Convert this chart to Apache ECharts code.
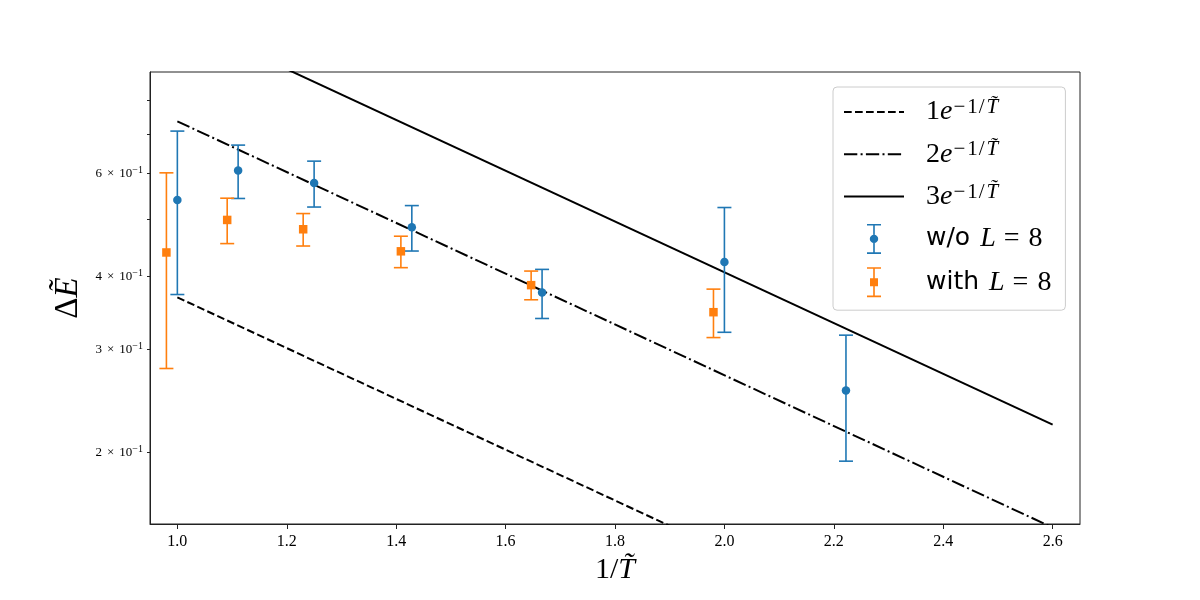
<!DOCTYPE html>
<html>
<head>
<meta charset="utf-8">
<script src="https://cdn.jsdelivr.net/npm/echarts@6/dist/echarts.min.js"></script>
<style>html,body{margin:0;padding:0;background:#fff}#c{width:1200px;height:600px}</style>
</head>
<body>
<div id="c"></div>
<script>
// ---- data ----
const xTicks = [1.0, 1.2, 1.4, 1.6, 1.8, 2.0, 2.2, 2.4, 2.6];
const yTickValues = [0.2, 0.3, 0.4, 0.5, 0.6, 0.7, 0.8];
const yLabelValues = [0.2, 0.3, 0.4, 0.6];

const lineX = [1.0, 2.6];
const line1 = [0.3679, 0.0743];
const line2 = [0.7358, 0.1486];
const line3 = [1.1036, 0.2228];

const xWo = [1.0, 1.1111, 1.25, 1.4286, 1.6667, 2.0, 2.2222];
const yWo = [0.540, 0.606, 0.577, 0.485, 0.375, 0.423, 0.255];
const yWoLow = [0.372, 0.543, 0.525, 0.4415, 0.3385, 0.3206, 0.193];
const yWoHigh = [0.708, 0.670, 0.629, 0.528, 0.4107, 0.524, 0.317];

const xWith = [0.98, 1.0911, 1.23, 1.4086, 1.6467, 1.98];
const yWith = [0.439, 0.499, 0.481, 0.441, 0.386, 0.347];
const yWithLow = [0.278, 0.4546, 0.4503, 0.4135, 0.3644, 0.314];
const yWithHigh = [0.6007, 0.5436, 0.5117, 0.468, 0.408, 0.380];

const BLUE = '#1f77b4', ORANGE = '#ff7f0e';
const SERIF = 'Liberation Serif';
const SANS = 'DejaVu Sans';

function errBar(color) {
  return function (params, api) {
    const x = api.value(0), lo = api.value(2), hi = api.value(3);
    const t = api.coord([x, hi]), b = api.coord([x, lo]);
    const c = 7;
    const style = { stroke: color, lineWidth: 1.6 };
    return {
      type: 'group',
      children: [
        { type: 'line', shape: { x1: t[0], y1: t[1], x2: b[0], y2: b[1] }, style },
        { type: 'line', shape: { x1: t[0] - c, y1: t[1], x2: t[0] + c, y2: t[1] }, style },
        { type: 'line', shape: { x1: b[0] - c, y1: b[1], x2: b[0] + c, y2: b[1] }, style }
      ]
    };
  };
}

// legend icons: error bar glyph with marker (filled path)
const iconCircle = 'path://M0 0H14V1.6H0Z M6.2 1.6H7.8V10.8H6.2Z M6.2 19.2H7.8V28.4H6.2Z M0 28.4H14V30H0Z ' +
  'M2.8 15A4.2 4.2 0 1 1 11.2 15A4.2 4.2 0 1 1 2.8 15Z';
const iconSquare = 'path://M0 0H14V1.6H0Z M6.2 1.6H7.8V11H6.2Z M6.2 19H7.8V28.4H6.2Z M0 28.4H14V30H0Z ' +
  'M3 11H11V19H3Z';

const legendLabels = {
  L1: '{pad| }{n|1}{i|e}{sm|−}{s|1}{sl|/}{si|T̃}',
  L2: '{pad| }{n|2}{i|e}{sm|−}{s|1}{sl|/}{si|T̃}',
  L3: '{pad| }{n|3}{i|e}{sm|−}{s|1}{sl|/}{si|T̃}',
  wo: '{pad| }{sf|w/o}{gap| }{i|L}{eq|=}{n|8}',
  with: '{pad| }{sf|with}{gap| }{i|L}{eq|=}{n|8}'
};

const supBase = { fontFamily: SERIF, fontSize: 21, color: '#000', verticalAlign: 'top', lineHeight: 12 };

const chart = echarts.init(document.getElementById('c'), null, { renderer: 'canvas' });
const option = {
  animation: false,
  backgroundColor: '#fff',
  grid: { left: 150, right: 120, top: 72, bottom: 76, show: true, borderColor: '#222', borderWidth: 1, backgroundColor: 'transparent' },
  xAxis: {
    type: 'value', min: 0.95, max: 2.65,
    axisLine: { show: true, onZero: false, lineStyle: { color: '#222', width: 1 } },
    splitLine: { show: false },
    axisTick: { show: true, customValues: xTicks, length: 5, lineStyle: { color: '#222' } },
    axisLabel: { customValues: xTicks, formatter: v => v.toFixed(1), fontFamily: SERIF, fontSize: 16, color: '#000', margin: 10 },
    name: '{n|1/}{i|T̃}', nameLocation: 'middle', nameGap: 26,
    nameTextStyle: { rich: {
      n: { fontFamily: SERIF, fontSize: 30, color: '#000', lineHeight: 30 },
      i: { fontFamily: SERIF, fontStyle: 'italic', fontSize: 30, color: '#000', lineHeight: 30 }
    } }
  },
  yAxis: {
    type: 'log', logBase: 10, min: 0.1507, max: 0.8935,
    axisLine: { show: true, lineStyle: { color: '#222', width: 1 } },
    splitLine: { show: false },
    minorTick: { show: false },
    axisTick: { show: true, customValues: yTickValues, length: 3, lineStyle: { color: '#222' } },
    axisLabel: {
      customValues: yLabelValues, margin: 7,
      formatter: v => '{a|' + Math.round(v * 10) + '}{x|×}{a|10}{b|−1}',
      rich: {
        a: { fontFamily: SERIF, fontSize: 13, color: '#000', lineHeight: 16 },
        x: { fontFamily: SERIF, fontSize: 13, color: '#000', padding: [0, 5, 0, 5], lineHeight: 16 },
        b: { fontFamily: SERIF, fontSize: 10, color: '#000', verticalAlign: 'top', lineHeight: 9 }
      }
    },
    name: '{n|Δ}{i|Ẽ}', nameLocation: 'middle', nameGap: 62, nameRotate: 90,
    nameTextStyle: { rich: {
      n: { fontFamily: SERIF, fontSize: 33, color: '#000', lineHeight: 36 },
      i: { fontFamily: SERIF, fontStyle: 'italic', fontSize: 33, color: '#000', lineHeight: 36 }
    } }
  },
  legend: {
    orient: 'vertical', left: 833, top: 87,
    itemWidth: 60, itemHeight: 30, itemGap: 13.3,
    padding: [10, 14, 13, 10],
    backgroundColor: 'rgba(255,255,255,0.85)', borderColor: '#cccccc', borderWidth: 1, borderRadius: 4,
    data: [
      { name: 'L1', itemStyle: { opacity: 0 } },
      { name: 'L2', itemStyle: { opacity: 0 } },
      { name: 'L3', itemStyle: { opacity: 0 } },
      { name: 'wo', icon: iconCircle }, { name: 'with', icon: iconSquare }
    ],
    formatter: name => legendLabels[name],
    textStyle: { rich: {
      pad: { width: 17 },
      gap: { width: 10 },
      n: { fontFamily: SERIF, fontSize: 28, color: '#000', lineHeight: 30 },
      i: { fontFamily: SERIF, fontStyle: 'italic', fontSize: 28, color: '#000', lineHeight: 30 },
      eq: { fontFamily: SERIF, fontSize: 28, color: '#000', lineHeight: 30, padding: [0, 9, 0, 8] },
      sm: Object.assign({}, supBase, { padding: [0, 2, 0, 1] }),
      s: Object.assign({}, supBase),
      sl: Object.assign({}, supBase, { padding: [0, 2, 0, 1] }),
      si: Object.assign({}, supBase, { fontStyle: 'italic' }),
      sf: { fontFamily: SANS, fontSize: 25, color: '#000', lineHeight: 30 }
    } }
  },
  series: [
    { name: 'L1', type: 'line', data: lineX.map((x, i) => [x, line1[i]]), symbol: 'none', showSymbol: false, clip: true,
      lineStyle: { color: '#000', width: 2, type: [7.7, 3.3] }, itemStyle: { color: 'rgba(0,0,0,0)' }, z: 2 },
    { name: 'L2', type: 'line', data: lineX.map((x, i) => [x, line2[i]]), symbol: 'none', showSymbol: false, clip: true,
      lineStyle: { color: '#000', width: 2, type: [13.3, 3.3, 2, 3.3] }, itemStyle: { color: 'rgba(0,0,0,0)' }, z: 2 },
    { name: 'L3', type: 'line', data: lineX.map((x, i) => [x, line3[i]]), symbol: 'none', showSymbol: false, clip: true,
      lineStyle: { color: '#000', width: 2, type: 'solid' }, itemStyle: { color: 'rgba(0,0,0,0)' }, z: 2 },
    { name: 'woErr', type: 'custom', renderItem: errBar(BLUE), encode: { x: 0, y: [1, 2, 3] },
      data: xWo.map((x, i) => [x, yWo[i], yWoLow[i], yWoHigh[i]]), itemStyle: { color: BLUE }, z: 3 },
    { name: 'withErr', type: 'custom', renderItem: errBar(ORANGE), encode: { x: 0, y: [1, 2, 3] },
      data: xWith.map((x, i) => [x, yWith[i], yWithLow[i], yWithHigh[i]]), itemStyle: { color: ORANGE }, z: 3 },
    { name: 'wo', type: 'scatter', symbol: 'circle', symbolSize: 8.5, itemStyle: { color: BLUE, opacity: 1 },
      data: xWo.map((x, i) => [x, yWo[i]]), z: 4 },
    { name: 'with', type: 'scatter', symbol: 'rect', symbolSize: 8.5, itemStyle: { color: ORANGE, opacity: 1 },
      data: xWith.map((x, i) => [x, yWith[i]]), z: 4 }
  ]
};
chart.setOption(option);
</script>
</body>
</html>
